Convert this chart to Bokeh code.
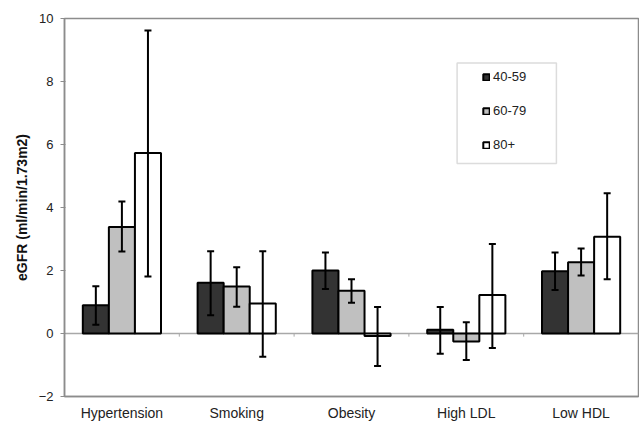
from bokeh.plotting import figure
from bokeh.models import (Range1d, FixedTicker, Span, Whisker, TeeHead,
                          ColumnDataSource, Legend, LegendItem, BoxAnnotation)
from bokeh.embed import file_html
from bokeh.resources import INLINE

# ---- data ----
categories = ["Hypertension", "Smoking", "Obesity", "High LDL", "Low HDL"]
age_groups = ["40-59", "60-79", "80+"]

mean_40_59 = [0.90, 1.61, 2.00, 0.12, 1.98]
low_40_59 = [0.28, 0.58, 1.41, -0.64, 1.38]
high_40_59 = [1.50, 2.61, 2.57, 0.84, 2.57]

mean_60_79 = [3.38, 1.49, 1.36, -0.25, 2.26]
low_60_79 = [2.60, 0.85, 0.98, -0.84, 1.84]
high_60_79 = [4.19, 2.10, 1.72, 0.36, 2.70]

mean_80 = [5.73, 0.95, -0.08, 1.22, 3.07]
low_80 = [1.81, -0.74, -1.03, -0.46, 1.72]
high_80 = [9.62, 2.61, 0.84, 2.84, 4.45]

y_ticks = [-2, 0, 2, 4, 6, 8, 10]

# ---- styles ----
FONT = "Liberation Sans"
colors = ["#333333", "#c0c0c0", "#ffffff"]
bar_w = 0.227
grey = "#8c8c8c"

p = figure(width=639, height=423, output_backend="svg", toolbar_location=None,
           x_range=Range1d(0, len(categories)), y_range=Range1d(-2, 10),
           min_border_left=64, min_border_right=1, min_border_top=18,
           min_border_bottom=25)
p.xgrid.visible = False
p.ygrid.visible = False
p.outline_line_color = grey
p.outline_line_width = 1.5
p.background_fill_color = "white"
p.border_fill_color = "white"

# zero line
p.add_layout(Span(location=0, dimension="width", line_color="#a8a8a8",
                  line_width=1.5, level="underlay"))

# small tick marks at category boundaries on the zero line
bounds = list(range(1, len(categories)))
p.segment(x0=bounds, x1=bounds, y0=[0] * len(bounds), y1=[-0.1] * len(bounds),
          line_color="#a8a8a8", line_width=1)

series = [(mean_40_59, low_40_59, high_40_59),
          (mean_60_79, low_60_79, high_60_79),
          (mean_80, low_80, high_80)]

legend_items = []
for j, (m, lo, hi) in enumerate(series):
    xs = [i + 0.5 + (j - 1) * bar_w for i in range(len(categories))]
    src = ColumnDataSource(dict(x=xs, top=m, lo=lo, hi=hi))
    r = p.vbar(x="x", top="top", bottom=0, width=bar_w, source=src,
               fill_color=colors[j], line_color="black", line_width=2)
    legend_items.append(LegendItem(label=age_groups[j], renderers=[r]))
    w = Whisker(base="x", upper="hi", lower="lo", source=src,
                line_color="black", line_width=2, level="overlay",
                upper_head=TeeHead(size=7, line_width=2, line_color="black"),
                lower_head=TeeHead(size=7, line_width=2, line_color="black"))
    p.add_layout(w)

# legend frame (decoration)
p.add_layout(BoxAnnotation(left=3.42, right=4.285, bottom=5.40, top=8.59,
                           fill_color="white", fill_alpha=1.0,
                           line_color=grey, line_width=1.5, level="overlay"))

legend = Legend(items=legend_items, location=(418, 244),
                border_line_color=None, background_fill_alpha=0.0,
                padding=0, spacing=19, glyph_width=8, glyph_height=8,
                label_height=14, label_standoff=3,
                label_text_font=FONT, label_text_font_size="13px",
                label_text_color="#222222", margin=0)
p.add_layout(legend)

# axes
p.xaxis.ticker = FixedTicker(ticks=[i + 0.5 for i in range(len(categories))])
p.xaxis.major_label_overrides = {i + 0.5: c for i, c in enumerate(categories)}
p.xaxis.major_tick_out = 0
p.xaxis.major_tick_in = 0
p.xaxis.minor_tick_out = 0
p.xaxis.minor_tick_in = 0
p.xaxis.axis_line_color = grey
p.xaxis.axis_line_width = 1.5
p.xaxis.major_label_standoff = 8
p.xaxis.major_label_text_font = FONT
p.xaxis.major_label_text_font_size = "14px"
p.xaxis.major_label_text_color = "#222222"

p.yaxis.ticker = FixedTicker(ticks=y_ticks)
p.yaxis.major_tick_out = 4
p.yaxis.major_tick_in = 1
p.yaxis.minor_tick_out = 0
p.yaxis.minor_tick_in = 0
p.yaxis.major_tick_line_color = grey
p.yaxis.axis_line_color = grey
p.yaxis.axis_line_width = 1.5
p.yaxis.major_label_standoff = 7
p.yaxis.major_label_text_font = FONT
p.yaxis.major_label_text_font_size = "13px"
p.yaxis.major_label_text_color = "#222222"
p.yaxis.axis_label = "eGFR (ml/min/1.73m2)"
p.yaxis.axis_label_text_font = FONT
p.yaxis.axis_label_text_font_size = "14px"
p.yaxis.axis_label_text_font_style = "bold"
p.yaxis.axis_label_text_color = "#111111"
p.yaxis.axis_label_standoff = 6

open("out.html", "w").write(file_html(p, INLINE))
